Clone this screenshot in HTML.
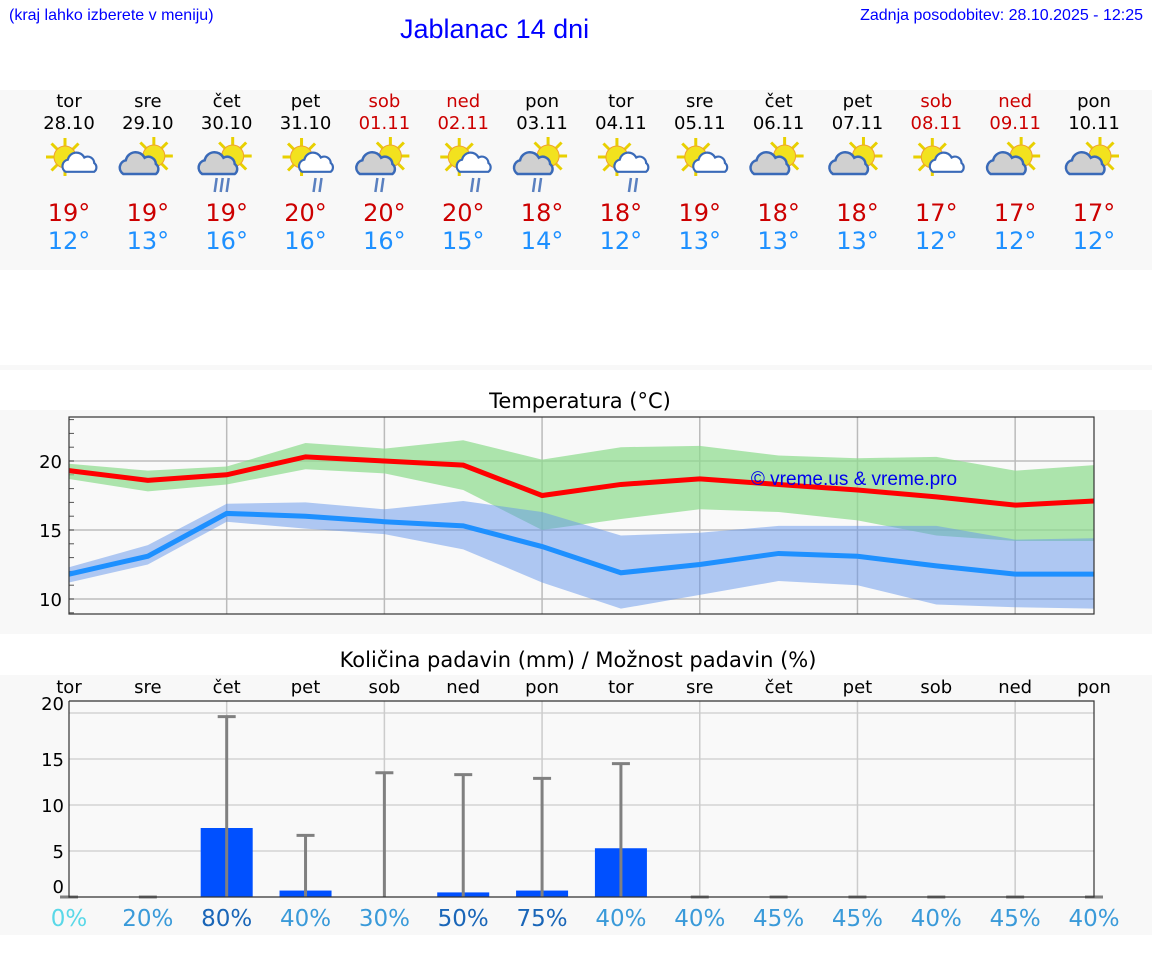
<!DOCTYPE html>
<html><head><meta charset="utf-8">
<style>
body{margin:0;width:1152px;height:975px;background:#fff;position:relative;overflow:hidden;font-family:"DejaVu Sans","Liberation Sans",sans-serif}
.abs{position:absolute}
.hdr{font-family:"Liberation Sans",sans-serif;color:#0000ff}
.panel{position:absolute;left:0;width:1152px;background:#f8f8f8}
</style></head><body>
<div class="abs hdr" style="left:9px;top:7px;font-size:16px">(kraj lahko izberete v meniju)</div>
<div class="abs hdr" style="left:400px;top:14px;font-size:27px">Jablanac 14 dni</div>
<div class="abs hdr" style="right:9px;top:7px;font-size:16px">Zadnja posodobitev: 28.10.2025 - 12:25</div>
<div class="panel" style="top:90px;height:180px"></div>
<div class="panel" style="top:365px;height:5px"></div>
<div class="panel" style="top:410px;height:224px"></div>
<div class="panel" style="top:675px;height:260px"></div>
<svg class="abs" style="left:0;top:0" width="1152" height="975" id="svg">
<defs>
<g id="sun"><g stroke="#e8d000" stroke-width="3"><line x1="0" y1="-19" x2="0" y2="19"/><line x1="-19" y1="0" x2="19" y2="0"/><line x1="-13.5" y1="-13.5" x2="13.5" y2="13.5"/><line x1="-13.5" y1="13.5" x2="13.5" y2="-13.5"/></g><circle r="11" fill="#f2e21e" stroke="#f0a030" stroke-width="1"/></g>
<path id="cloud" d="M-14,8 a6,6 0 0 1 2,-11 a8,8 0 0 1 15,-2 a6,6 0 0 1 9,5 a5,5 0 0 1 0,8 z" stroke="#3a6ab8" stroke-width="2"/>
</defs>
<text x="580" y="408" font-size="21" text-anchor="middle" fill="#000">Temperatura (°C)</text>
<text x="578" y="667" font-size="21" text-anchor="middle" fill="#000">Količina padavin (mm) / Možnost padavin (%)</text>
<g id="g"></g>
</svg>
<script>
const dayNames=["tor","sre","čet","pet","sob","ned","pon","tor","sre","čet","pet","sob","ned","pon"];
const dates=["28.10","29.10","30.10","31.10","01.11","02.11","03.11","04.11","05.11","06.11","07.11","08.11","09.11","10.11"];
const weekend=[0,0,0,0,1,1,0,0,0,0,0,1,1,0];
const iconCloudGray=[0,1,1,0,1,0,1,0,0,1,1,0,1,1];
const iconRain=[0,0,3,2,2,2,2,2,0,0,0,0,0,0];
const tMax=[19.3,18.6,19.0,20.3,20.0,19.7,17.5,18.3,18.7,18.3,17.9,17.4,16.8,17.1];
const tMin=[11.8,13.1,16.2,16.0,15.6,15.3,13.8,11.9,12.5,13.3,13.1,12.4,11.8,11.8];
const tMaxHi=[19.8,19.3,19.6,21.3,20.9,21.5,20.1,21.0,21.1,20.4,20.2,20.3,19.3,19.7];
const tMaxLo=[18.7,17.8,18.3,19.4,19.1,17.9,15.0,15.8,16.5,16.3,15.7,14.6,14.2,14.2];
const tMinHi=[12.3,13.9,16.9,17.0,16.5,17.1,16.3,14.6,14.8,15.3,15.3,15.3,14.3,14.4];
const tMinLo=[11.2,12.5,15.6,15.1,14.7,13.6,11.2,9.3,10.3,11.3,11.0,9.6,9.4,9.3];
const dispMax=[19,19,19,20,20,20,18,18,19,18,18,17,17,17];
const dispMin=[12,13,16,16,16,15,14,12,13,13,13,12,12,12];
const tTicks=[10,15,20];
const rain=[0,0,7.5,0.7,0,0.5,0.7,5.3,0,0,0,0,0,0];
const rainMax=[0,0,19.6,6.7,13.5,13.3,12.9,14.5,0,0,0,0,0,0];
const prob=[0,20,80,40,30,50,75,40,40,45,45,40,45,40];
const rTicks=[0,5,10,15,20];
const NS="http://www.w3.org/2000/svg";
const g=document.getElementById('g');
function el(t,a,txt){const e=document.createElementNS(NS,t);for(const k in a)e.setAttribute(k,a[k]);if(txt!==undefined)e.textContent=txt;g.appendChild(e);return e;}
const X=i=>69+i*(1094-69)/13;
const TY=t=>461-(t-20)*13.8;
const RY=r=>897-r*9.2;
for(let i=0;i<14;i++){
  const x=X(i), c=weekend[i]?"#cc0000":"#000";
  let e=el('text',{x:x,y:107,'font-size':18,'text-anchor':'middle',fill:c},dayNames[i]);
  
  e=el('text',{x:x,y:129,'font-size':18,'text-anchor':'middle',fill:c},dates[i]);
  
  const ic=el('g',{transform:`translate(${x},${158})`});
  
  const s=document.createElementNS(NS,'use');s.setAttribute('href','#sun');s.setAttribute('transform',iconCloudGray[i]?'translate(6,-2)':'translate(-4,-1)');ic.appendChild(s);
  const cl=document.createElementNS(NS,'use');cl.setAttribute('href','#cloud');cl.setAttribute('fill',iconCloudGray[i]?'#d0d0d0':'#fff');
  cl.setAttribute('transform',iconCloudGray[i]?'translate(-7,6) scale(1.25)':'translate(12,5) scale(1.1)');ic.appendChild(cl);
  for(let k=0;k<iconRain[i];k++){const l=document.createElementNS(NS,'line');const rx=(iconRain[i]==3?-12:(iconCloudGray[i]?-9:8))+k*6;
    l.setAttribute('x1',rx+2);l.setAttribute('y1',20);l.setAttribute('x2',rx);l.setAttribute('y2',34);l.setAttribute('stroke','#5a80c0');l.setAttribute('stroke-width',2.5);ic.appendChild(l);}
  e=el('text',{x:x,y:221,'font-size':24,'text-anchor':'middle',fill:'#cc0000'},dispMax[i]+'°');
  
  e=el('text',{x:x,y:249,'font-size':24,'text-anchor':'middle',fill:'#1e90ff'},dispMin[i]+'°');
  
}
let r=el('rect',{x:69,y:417,width:1025,height:197,fill:'#f9f9f9'});

for(const t of tTicks){el('line',{x1:69,x2:1094,y1:TY(t),y2:TY(t),stroke:'#ccc','stroke-width':2});
  const e=el('text',{x:62,y:TY(t)+7,'font-size':18,'text-anchor':'end',fill:'#000'},t);
  }
for(let t=9;t<=23;t++)el('line',{x1:69,x2:74,y1:TY(t),y2:TY(t),stroke:'#555','stroke-width':1});
for(let i=2;i<14;i+=2)el('line',{x1:X(i),x2:X(i),y1:417,y2:614,stroke:'#bbb','stroke-width':1.5});
function band(hi,lo,fill,name){let d='M'+hi.map((v,i)=>X(i)+','+TY(v)).join('L')+'L'+lo.map((v,i)=>X(i)+','+TY(v)).reverse().join('L')+'Z';
  const e=el('path',{d:d,fill:fill});}
band(tMaxHi,tMaxLo,'rgba(140,220,140,0.7)','max-temp-band');
band(tMinHi,tMinLo,'rgba(100,150,235,0.5)','min-temp-band');
function line(v,c,name){const e=el('polyline',{points:v.map((t,i)=>X(i)+','+TY(t)).join(' '),fill:'none',stroke:c,'stroke-width':5});
  }
line(tMax,'#ff0000','max-temp-line');line(tMin,'#1e90ff','min-temp-line');
el('rect',{x:69,y:417,width:1025,height:197,fill:'none',stroke:'#333','stroke-width':1.2});
r=el('text',{x:854,y:485,'font-size':19,'text-anchor':'middle',fill:'#0000ee','font-family':'Liberation Sans, sans-serif'},'© vreme.us & vreme.pro');

for(let i=0;i<14;i++){const e=el('text',{x:X(i),y:693,'font-size':18,'text-anchor':'middle',fill:'#000'},dayNames[i]);
  }
r=el('rect',{x:69,y:701,width:1025,height:196,fill:'#f9f9f9'});

for(const t of rTicks){ if(t>0) el('line',{x1:69,x2:1094,y1:RY(t),y2:RY(t),stroke:'#d4d4d4','stroke-width':1.5});
  const yy=t==20?710:(t==0?893:RY(t)+7);
  const e=el('text',{x:64,y:yy,'font-size':18,'text-anchor':'end',fill:'#000'},t);
  }
for(let i=2;i<14;i+=2)el('line',{x1:X(i),x2:X(i),y1:701,y2:897,stroke:'#ccc','stroke-width':1.5});
for(let i=0;i<14;i++){
  if(rain[i]>0){const b=el('rect',{x:X(i)-26,y:RY(rain[i]),width:52,height:897-RY(rain[i]),fill:'#0050ff'});
    }
  const eb=el('line',{x1:X(i),x2:X(i),y1:RY(rainMax[i]),y2:897,stroke:'#808080','stroke-width':3});
  
  el('line',{x1:X(i)-9,x2:X(i)+9,y1:RY(rainMax[i]),y2:RY(rainMax[i]),stroke:'#808080','stroke-width':3});
  const p=prob[i], c=p==0?'#5ad8e8':(p>=50?'#1a66b8':'#3a9ad9');
  const e=el('text',{x:X(i),y:926,'font-size':23,'text-anchor':'middle',fill:c},p+'%');
  
}
el('polyline',{points:'69,701 69,897 1094,897 1094,701 69,701',fill:'none',stroke:'#333','stroke-width':1.2});
</script>
</body></html>
